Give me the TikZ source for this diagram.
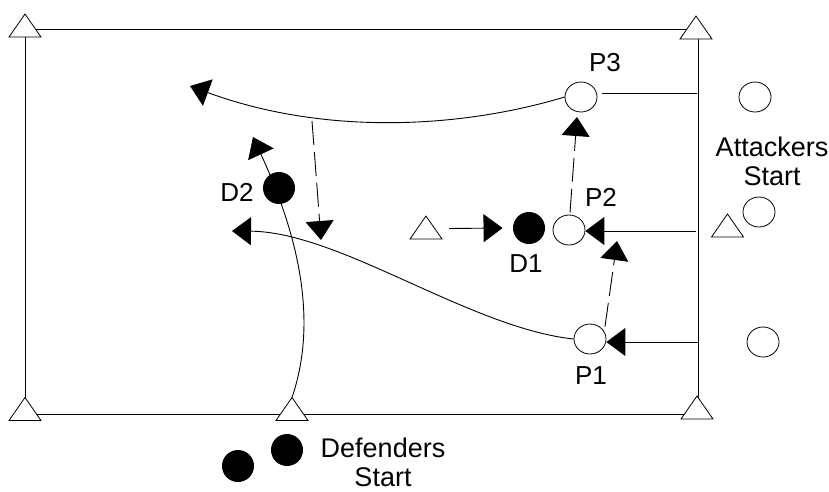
\documentclass[tikz,border=0pt]{standalone}
\usepackage{fontspec}
\setmainfont{Liberation Sans}
\usetikzlibrary{arrows.meta,shapes.geometric}
\begin{document}
\begin{tikzpicture}[x=1pt,y=-1pt,line width=0.9pt,
  opencirc/.style={ellipse,draw,fill=white,minimum width=32pt,minimum height=30pt,inner sep=0pt,line width=0.8pt},
  dot/.style={circle,fill=black,minimum size=32pt,inner sep=0pt},
  lbl/.style={font=\fontsize{26}{30}\selectfont,inner sep=0pt,anchor=base,align=center},
  biglbl/.style={font=\fontsize{27}{29}\selectfont,inner sep=0pt,anchor=base,align=center},
  arr/.style={-{Triangle[length=19pt,width=28pt]}},
  dsh/.style={dash pattern=on 24pt off 7pt},
  pics/cone/.style={code={
    \coordinate (-c) at (0,0);
    \coordinate (-apex) at (0,-11.5);
    \draw[fill=white,line width=0.8pt] (-16,11.5) -- (0,-11.5) -- (16,11.5) -- cycle;}}]
\useasboundingbox (0,0) rectangle (829,491);
\fill[white] (0,0) rectangle (829,491);
% field
\draw (25,29) rectangle (698,414);
% cones
\pic (tTL) at (25,25.5) {cone};
\pic (tTR) at (696,27.5) {cone};
\pic (tBL) at (25,409) {cone};
\pic (tBM) at (292,409) {cone};
\pic (tBR) at (697,407.5) {cone};
\pic (tD) at (426,227.5) {cone};
\pic (tA) at (727.5,225.5) {cone};
% players
\node[opencirc] (p3) at (581,97) {};
\node[opencirc] (p2) at (569,230) {};
\node[opencirc] (p1) at (590,339) {};
\node[opencirc] (a1) at (755,97) {};
\node[opencirc] (a2) at (759,212) {};
\node[opencirc] (a3) at (763,342) {};
\node[dot] (d1) at (529,228) {};
\node[dot] (d2) at (279,188) {};
\node[dot] (ds1) at (287,450) {};
\node[dot] (ds2) at (238,466) {};
% labels
\node[lbl] (lp3) at (605,71) {P3};
\node[lbl] (lp2) at (601,206) {P2};
\node[lbl] (lp1) at (591,384) {P1};
\node[lbl] (ld1) at (526,272) {D1};
\node[lbl] (ld2) at (237,201) {D2};
\node[biglbl] (latt) at (772,185) {Attackers\\Start};
\node[biglbl] (ldef) at (383,486) {Defenders\\Start};
% free ends
\coordinate (e1) at (190,86);
\coordinate (s2) at (312,121);
\coordinate (e2) at (321,240);
\coordinate (e3) at (253,137);
\coordinate (e4) at (232,231);
\coordinate (e5) at (617,241);
\coordinate (e6) at (577,117);
\coordinate (r3) at (697,93);
\coordinate (r2) at (696,231);
\coordinate (r1) at (698,342);
% connectors
\draw[arr] (p3.west) .. controls (455,130) and (320,134) .. (e1);
\draw[arr,dsh] (s2) -- (e2);
\draw[arr] (tBM-apex) .. controls (315,330) and (305,250) .. (e3);
\draw[arr] (p1.west) .. controls (470,328) and (340,232) .. (e4);
\draw[arr,dsh] ([xshift=15pt,yshift=-3pt]p1.north) -- (e5);
\draw[arr,dsh] ([xshift=1pt,yshift=2pt]p2.north) -- (e6);
\draw (r3) -- ([xshift=5pt,yshift=4pt]p3.east);
\draw[arr] (r2) -- (r2 -| p2.east);
\draw[arr] (r1) -- (r1 -| p1.east);
\draw[arr] ([xshift=23pt,yshift=-1pt]tD-c) -- ([xshift=-10pt]d1.west);
\end{tikzpicture}
\end{document}
